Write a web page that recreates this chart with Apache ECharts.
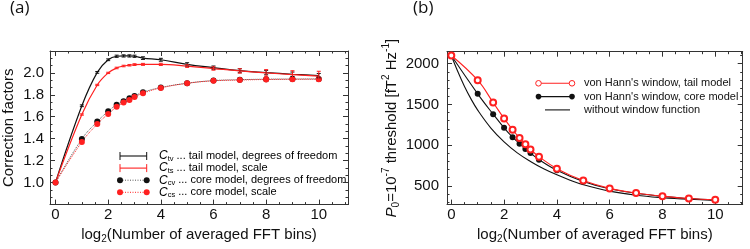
<!DOCTYPE html>
<html>
<head>
<meta charset="utf-8">
<script src="https://cdn.jsdelivr.net/npm/echarts@6/dist/echarts.min.js"></script>
<style>
html, body { margin: 0; padding: 0; background: #fff; }
#chart { width: 750px; height: 249px; }
</style>
</head>
<body>
<div id="chart"></div>
<script>
// log2 of the number of averaged bins
const bins = [0, 1, 1.585, 2, 2.322, 2.585, 2.807, 3, 3.322, 4, 5, 6, 7, 8, 9, 10];

// (a) correction factors
const tailDof      = [1.0, 1.70, 2.005, 2.12, 2.152, 2.155, 2.155, 2.152, 2.135, 2.12, 2.078, 2.048, 2.02, 2.003, 1.988, 1.975];
const tailDofErr   = [0, 0.008, 0.008, 0.008, 0.01, 0.01, 0.01, 0.01, 0.012, 0.013, 0.015, 0.015, 0.018, 0.02, 0.02, 0.02];
const tailScale    = [1.0, 1.62, 1.89, 2.0, 2.045, 2.063, 2.07, 2.076, 2.078, 2.078, 2.062, 2.04, 2.018, 2.0, 1.985, 1.97];
const tailScaleErr = [0, 0.006, 0.006, 0.006, 0.007, 0.007, 0.007, 0.008, 0.009, 0.01, 0.012, 0.015, 0.02, 0.03, 0.035, 0.045];
const coreDof      = [1.0, 1.397, 1.556, 1.65, 1.71, 1.742, 1.768, 1.79, 1.824, 1.867, 1.906, 1.93, 1.938, 1.943, 1.944, 1.945];
const coreScale    = [1.0, 1.37, 1.533, 1.626, 1.69, 1.73, 1.752, 1.78, 1.815, 1.863, 1.905, 1.928, 1.935, 1.94, 1.942, 1.943];

// (b) thresholds
const hannTail    = [2100, 1797, 1523, 1328, 1189, 1089, 1010, 946, 858, 711, 565, 469, 413, 374, 345, 330];
const hannTailErr = [40, 40, 40, 40, 40, 40, 40, 40, 40, 30, 30, 25, 25, 25, 25, 25];
const hannCore    = [2100, 1630, 1380, 1213, 1097, 1018, 954, 902, 822, 691, 553, 465, 410, 372, 343, 328];
const noWinX = [0, 0.25, 0.5, 0.75, 1, 1.5, 2, 2.5, 3, 3.5, 4, 4.5, 5, 6, 7, 8, 9, 10];
const noWin  = [2100, 1900, 1720, 1565, 1430, 1210, 1040, 905, 800, 710, 635, 570, 515, 435, 385, 355, 335, 322];

// tick positions
const xMajor = [0, 2, 4, 6, 8, 10];
const xMinor = [0, 0.5, 1, 1.5, 2, 2.5, 3, 3.5, 4, 4.5, 5, 5.5, 6, 6.5, 7, 7.5, 8, 8.5, 9, 9.5, 10, 10.5, 11];
const yaMajor = [1.0, 1.2, 1.4, 1.6, 1.8, 2.0];
const yaMinor = [];
for (let i = 0; i <= 21; i++) yaMinor.push(0.8 + i * 0.2 / 3);
const ybMajor = [500, 1000, 1500, 2000];
const ybMinor = [300, 400, 500, 600, 700, 800, 900, 1000, 1100, 1200, 1300, 1400, 1500, 1600, 1700, 1800, 1900, 2000, 2100];

const RED = '#ff2020';
const BLK = '#111';
const FONT = "'Liberation Sans', Arial, sans-serif";

const zip = (xs, ys, es) => xs.map((x, i) => es ? [x, ys[i], es[i]] : [x, ys[i]]);

// frame axes: main axis with labels + minor ticks, and mirrored ticks on the opposite side
function frameAxes(dim, gridIndex, min, max, major, minor, main) {
  const sides = dim === 'x' ? ['bottom', 'top'] : ['left', 'right'];
  const list = [];
  sides.forEach((side, i) => {
    list.push(Object.assign({
      type: 'value', gridIndex, position: side, min, max,
      axisLine: { show: true, onZero: false, lineStyle: { color: '#333', width: 1 } },
      axisTick: { show: true, inside: true, length: 5, customValues: major, lineStyle: { color: '#333' } },
      axisLabel: { show: false },
      splitLine: { show: false }
    }, i === 0 ? main : {}));
    list.push({
      type: 'value', gridIndex, position: side, min, max,
      axisLine: { show: false, onZero: false },
      axisTick: { show: true, inside: true, length: 2.5, customValues: minor, lineStyle: { color: '#333' } },
      axisLabel: { show: false },
      splitLine: { show: false }
    });
  });
  return list;
}

const xName = {
  name: '{n|log}{s|2}{n|(Number of averaged FFT bins)}',
  nameLocation: 'middle',
  nameGap: 17,
  nameTextStyle: {
    rich: {
      n: { fontSize: 15, fontFamily: FONT, color: '#111', lineHeight: 18 },
      s: { fontSize: 10, fontFamily: FONT, color: '#111', lineHeight: 11, verticalAlign: 'bottom' }
    }
  }
};
const tickLabel = (fmt) => ({
  show: true, fontSize: 15, fontFamily: FONT, color: '#111', margin: 3, formatter: fmt
});

const xAxes = [].concat(
  frameAxes('x', 0, -0.21, 11.11, xMajor, xMinor, Object.assign({}, xName, {
    axisLabel: Object.assign(tickLabel(v => String(v)), { customValues: xMajor })
  })),
  frameAxes('x', 1, -0.163, 11.04, xMajor, xMinor, Object.assign({}, xName, {
    axisLabel: Object.assign(tickLabel(v => String(v)), { customValues: xMajor })
  }))
);
const yAxes = [].concat(
  frameAxes('y', 0, 0.798, 2.2, yaMajor, yaMinor, {
    name: 'Correction factors',
    nameLocation: 'middle', nameGap: 34, nameRotate: 90,
    nameTextStyle: { fontSize: 15, fontFamily: FONT, color: '#111' },
    axisLabel: Object.assign(tickLabel(v => v.toFixed(1)), { customValues: yaMajor, margin: 6 })
  }),
  frameAxes('y', 1, 270, 2147, ybMajor, ybMinor, {
    name: '{i|P}{sb|0}{n|=10}{sp|-7}{n| threshold [fT}{sp|2}{n| Hz}{sp|-1}{n|]}',
    nameLocation: 'middle', nameGap: 36, nameRotate: 90,
    nameTextStyle: {
      rich: {
        n: { fontSize: 15, fontFamily: FONT, color: '#111', lineHeight: 20 },
        i: { fontSize: 15, fontFamily: FONT, fontStyle: 'italic', color: '#111', lineHeight: 20 },
        sb: { fontSize: 10, fontFamily: FONT, color: '#111', lineHeight: 12, verticalAlign: 'bottom' },
        sp: { fontSize: 10, fontFamily: FONT, color: '#111', lineHeight: 12, verticalAlign: 'top' }
      }
    },
    axisLabel: Object.assign(tickLabel(v => String(v)), { customValues: ybMajor, margin: 8 })
  })
);

function errorBars(xIdx, yIdx, data, color, cap) {
  return {
    type: 'custom', xAxisIndex: xIdx, yAxisIndex: yIdx, clip: true, z: 3,
    data,
    renderItem: (params, api) => {
      const x = api.value(0), y = api.value(1), e = api.value(2);
      if (!e) return null;
      const top = api.coord([x, y + e]);
      const bot = api.coord([x, y - e]);
      const st = { stroke: color, lineWidth: 1 };
      return {
        type: 'group',
        children: [
          { type: 'line', shape: { x1: top[0], y1: top[1], x2: bot[0], y2: bot[1] }, style: st },
          { type: 'line', shape: { x1: top[0] - cap, y1: top[1], x2: top[0] + cap, y2: top[1] }, style: st },
          { type: 'line', shape: { x1: bot[0] - cap, y1: bot[1], x2: bot[0] + cap, y2: bot[1] }, style: st }
        ]
      };
    }
  };
}

const series = [
  // (a)
  { type: 'line', xAxisIndex: 0, yAxisIndex: 0, data: zip(bins, tailDof), smooth: 0.4, showSymbol: false,
    lineStyle: { color: BLK, width: 1.2 }, itemStyle: { color: BLK }, z: 2 },
  errorBars(0, 0, zip(bins, tailDof, tailDofErr), BLK, 2),
  { type: 'line', xAxisIndex: 0, yAxisIndex: 0, data: zip(bins, tailScale), smooth: 0.4, showSymbol: false,
    lineStyle: { color: RED, width: 1.2 }, itemStyle: { color: RED }, z: 2 },
  errorBars(0, 0, zip(bins, tailScale, tailScaleErr), RED, 2),
  { type: 'line', xAxisIndex: 0, yAxisIndex: 0, data: zip(bins, coreDof), smooth: 0.4, symbol: 'circle', symbolSize: 6,
    lineStyle: { color: '#555', width: 1, type: 'dotted' }, itemStyle: { color: BLK }, z: 2 },
  { type: 'line', xAxisIndex: 0, yAxisIndex: 0, data: zip(bins, coreScale), smooth: 0.4, symbol: 'circle', symbolSize: 6,
    lineStyle: { color: RED, width: 1, type: 'dotted' }, itemStyle: { color: RED }, z: 2 },
  // (b)
  { type: 'line', xAxisIndex: 4, yAxisIndex: 4, data: zip(noWinX, noWin), smooth: 0.4, showSymbol: false,
    lineStyle: { color: BLK, width: 1.1 }, z: 2 },
  { type: 'line', xAxisIndex: 4, yAxisIndex: 4, data: zip(bins, hannCore), smooth: 0.4, symbol: 'circle', symbolSize: 6,
    lineStyle: { color: BLK, width: 1.1 }, itemStyle: { color: BLK }, z: 3 },
  { type: 'line', xAxisIndex: 4, yAxisIndex: 4, data: zip(bins, hannTail), smooth: 0.4, symbol: 'emptyCircle', symbolSize: 6,
    lineStyle: { color: RED, width: 1.1 }, itemStyle: { color: RED, borderColor: RED, borderWidth: 1 }, z: 4 },
  errorBars(4, 4, zip(bins, hannTail, hannTailErr), RED, 0)
];

// legends drawn as graphics
const legTxt = {
  c: { fontSize: 12, fontFamily: FONT, fontStyle: 'italic', color: '#111', lineHeight: 14 },
  s: { fontSize: 7.5, fontFamily: FONT, color: '#111', lineHeight: 8, verticalAlign: 'bottom' },
  t: { fontSize: 11, fontFamily: FONT, color: '#111', lineHeight: 14 }
};
const legA = [
  { sub: 'tv', txt: ' ... tail model, degrees of freedom', color: BLK, kind: 'err' },
  { sub: 'ts', txt: ' ... tail model, scale', color: RED, kind: 'err' },
  { sub: 'cv', txt: ' ... core model, degrees of freedom', color: BLK, kind: 'dot' },
  { sub: 'cs', txt: ' ... core model, scale', color: RED, kind: 'dot' }
];
const graphic = [];
legA.forEach((r, i) => {
  const y = 156 + i * 12.1, x1 = 120, x2 = 146.7;
  if (r.kind === 'err') {
    graphic.push({ type: 'line', shape: { x1, y1: y, x2, y2: y }, style: { stroke: r.color, lineWidth: 1.1 } });
    graphic.push({ type: 'line', shape: { x1, y1: y - 4, x2: x1, y2: y + 4 }, style: { stroke: r.color, lineWidth: 1 } });
    graphic.push({ type: 'line', shape: { x1: x2, y1: y - 4, x2, y2: y + 4 }, style: { stroke: r.color, lineWidth: 1 } });
  } else {
    graphic.push({ type: 'line', shape: { x1, y1: y, x2, y2: y }, style: { stroke: r.color === BLK ? '#555' : r.color, lineWidth: 1, lineDash: [1, 1.5] } });
    graphic.push({ type: 'circle', shape: { cx: x1, cy: y, r: 3 }, style: { fill: r.color } });
    graphic.push({ type: 'circle', shape: { cx: x2, cy: y, r: 3 }, style: { fill: r.color } });
  }
  graphic.push({ type: 'text', x: 159, y: y, style: {
    text: '{c|C}{s|' + r.sub + '}{t|' + r.txt + '}', rich: legTxt, verticalAlign: 'middle' } });
});
const legB = [
  { txt: "von Hann's window, tail model", kind: 'open' },
  { txt: "von Hann's window, core model", kind: 'fill' },
  { txt: 'without window function', kind: 'plain' }
];
legB.forEach((r, i) => {
  const y = 83.3 + i * 13.3;
  if (r.kind === 'plain') {
    graphic.push({ type: 'line', shape: { x1: 545, y1: y, x2: 570, y2: y }, style: { stroke: BLK, lineWidth: 1.1 } });
  } else {
    const c = r.kind === 'open' ? RED : BLK;
    graphic.push({ type: 'line', shape: { x1: 538.5, y1: y, x2: 572, y2: y }, style: { stroke: c, lineWidth: 1.1 } });
    [538.5, 572].forEach(cx => graphic.push({ type: 'circle', shape: { cx, cy: y, r: 2.8 },
      style: r.kind === 'open' ? { fill: '#fff', stroke: RED, lineWidth: 1 } : { fill: BLK } }));
  }
  graphic.push({ type: 'text', x: 584, y: y, style: { text: r.txt, font: '11px ' + FONT, fill: '#111', verticalAlign: 'middle' } });
});

const chart = echarts.init(document.getElementById('chart'), null, { renderer: 'canvas' });
chart.setOption({
  animation: false,
  title: [
    { text: '(a)', left: 10, top: 0, padding: 0, textStyle: { fontSize: 17, fontWeight: 'normal', fontFamily: "'Open Sans', sans-serif", color: '#111' } },
    { text: '(b)', left: 413, top: 0, padding: 0, textStyle: { fontSize: 17, fontWeight: 'normal', fontFamily: "'Open Sans', sans-serif", color: '#111' } }
  ],
  grid: [
    { left: 48.5, right: 402, top: 51, bottom: 32.5 },
    { left: 447, right: 7.3, top: 51.7, bottom: 40 }
  ],
  xAxis: xAxes,
  yAxis: yAxes,
  series,
  graphic
});
</script>
</body>
</html>
